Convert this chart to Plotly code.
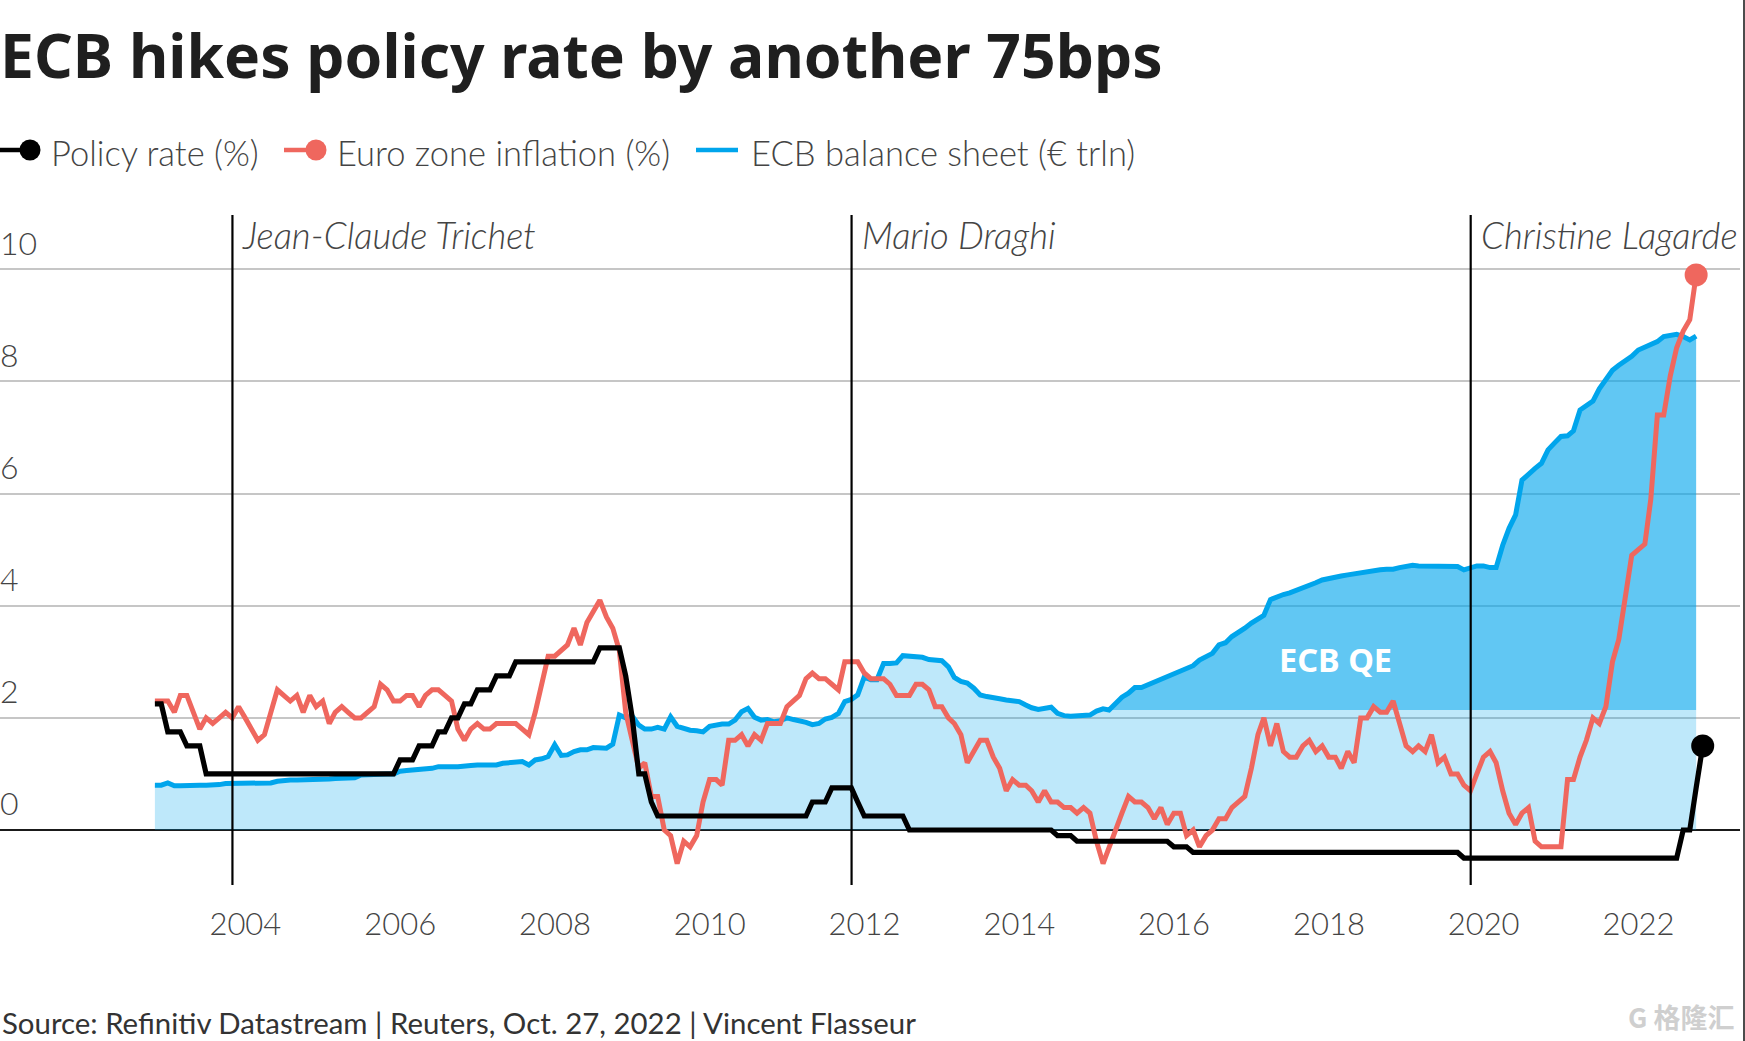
#!/usr/bin/env python3
import numpy as np
import pandas as pd
import plotly.graph_objects as go

# monthly readings, first value is end of Oct 2002
inflation = [
    2.3, 2.3, 2.3,
    2.1, 2.4, 2.4, 2.1, 1.8, 2.0, 1.9, 2.0, 2.1, 2.0, 2.2, 2.0,
    1.8, 1.6, 1.7, 2.1, 2.5, 2.4, 2.3, 2.4, 2.1, 2.4, 2.2, 2.3,
    1.9, 2.1, 2.2, 2.1, 2.0, 2.0, 2.1, 2.2, 2.6, 2.5, 2.3, 2.3,
    2.4, 2.4, 2.2, 2.4, 2.5, 2.5, 2.4, 2.3, 1.8, 1.6, 1.8, 1.9,
    1.8, 1.8, 1.9, 1.9, 1.9, 1.9, 1.8, 1.7, 2.1, 2.6, 3.1, 3.1,
    3.2, 3.3, 3.6, 3.3, 3.7, 3.9, 4.1, 3.8, 3.6, 3.2, 2.1, 1.6,
    1.1, 1.2, 0.6, 0.6, 0.0, -0.1, -0.6, -0.2, -0.3, -0.1, 0.5, 0.9,
    0.9, 0.8, 1.6, 1.6, 1.7, 1.5, 1.7, 1.6, 1.9, 1.9, 1.9, 2.2,
    2.3, 2.4, 2.7, 2.8, 2.7, 2.7, 2.6, 2.5, 3.0, 3.0, 3.0, 2.8,
    2.7, 2.7, 2.7, 2.6, 2.4, 2.4, 2.4, 2.6, 2.6, 2.5, 2.2, 2.2,
    2.0, 1.9, 1.7, 1.2, 1.4, 1.6, 1.6, 1.3, 1.1, 0.7, 0.9, 0.8,
    0.8, 0.7, 0.5, 0.7, 0.5, 0.5, 0.4, 0.4, 0.3, 0.4, 0.3, -0.2,
    -0.6, -0.3, 0.0, 0.3, 0.6, 0.5, 0.5, 0.4, 0.2, 0.4, 0.1, 0.3,
    0.3, -0.1, 0.0, -0.3, -0.1, 0.0, 0.2, 0.2, 0.4, 0.5, 0.6, 1.1,
    1.7, 2.0, 1.5, 1.9, 1.4, 1.3, 1.3, 1.5, 1.6, 1.4, 1.5, 1.3,
    1.3, 1.1, 1.4, 1.2, 2.0, 2.0, 2.2, 2.1, 2.1, 2.3, 1.9, 1.5,
    1.4, 1.5, 1.4, 1.7, 1.2, 1.3, 1.0, 1.0, 0.8, 0.7, 1.0, 1.3,
    1.4, 1.2, 0.7, 0.3, 0.1, 0.3, 0.4, -0.2, -0.3, -0.3, -0.3, -0.3,
    0.9, 0.9, 1.3, 1.6, 2.0, 1.9, 2.2, 3.0, 3.4, 4.1, 4.9, 5.0,
    5.1, 5.9, 7.4, 7.4, 8.1, 8.6, 8.9, 9.1, 9.9,
]

balance_sheet = [
    0.80, 0.80, 0.84,
    0.79, 0.79, 0.80, 0.80, 0.80, 0.80, 0.80, 0.81, 0.83, 0.83, 0.83, 0.83,
    0.83, 0.82, 0.82, 0.84, 0.87, 0.89, 0.89, 0.89, 0.89, 0.89, 0.89, 0.89,
    0.91, 0.92, 0.93, 0.93, 0.93, 0.98, 0.99, 1.00, 1.00, 1.00, 1.00, 1.05,
    1.06, 1.07, 1.07, 1.08, 1.10, 1.13, 1.14, 1.13, 1.13, 1.13, 1.15, 1.16,
    1.16, 1.16, 1.16, 1.19, 1.20, 1.22, 1.22, 1.16, 1.25, 1.27, 1.31, 1.52,
    1.33, 1.34, 1.40, 1.43, 1.43, 1.47, 1.46, 1.46, 1.53, 2.05, 2.00, 2.03,
    1.87, 1.80, 1.80, 1.83, 1.80, 2.02, 1.85, 1.81, 1.78, 1.77, 1.75, 1.85,
    1.88, 1.89, 1.89, 1.96, 2.11, 2.17, 2.01, 1.96, 1.97, 1.93, 1.95, 2.00,
    1.97, 1.95, 1.92, 1.88, 1.90, 1.98, 2.01, 2.08, 2.29, 2.33, 2.41, 2.73,
    2.68, 2.68, 2.97, 2.97, 2.98, 3.11, 3.10, 3.09, 3.08, 3.04, 3.03, 3.02,
    2.91, 2.72, 2.65, 2.62, 2.53, 2.41, 2.38, 2.35, 2.34, 2.32, 2.30, 2.29,
    2.23, 2.18, 2.15, 2.17, 2.19, 2.08, 2.04, 2.03, 2.03, 2.05, 2.05, 2.12,
    2.16, 2.14, 2.26, 2.37, 2.44, 2.54, 2.54, 2.59, 2.62, 2.67, 2.73, 2.79,
    2.84, 2.88, 2.93, 3.03, 3.08, 3.15, 3.30, 3.34, 3.45, 3.52, 3.60, 3.69,
    3.76, 3.83, 4.11, 4.16, 4.20, 4.23, 4.27, 4.31, 4.36, 4.41, 4.46, 4.49,
    4.51, 4.53, 4.55, 4.57, 4.58, 4.62, 4.64, 4.64, 4.65, 4.65, 4.68, 4.70,
    4.72, 4.71, 4.71, 4.70, 4.70, 4.70, 4.71, 4.70, 4.64, 4.68, 4.71, 4.71,
    4.68, 4.68, 5.08, 5.38, 5.62, 6.24, 6.36, 6.45, 6.54, 6.78, 6.90, 7.02,
    7.03, 7.12, 7.49, 7.56, 7.65, 7.87, 8.03, 8.20, 8.29, 8.37, 8.45, 8.56,
    8.62, 8.67, 8.71, 8.80, 8.83, 8.84, 8.80, 8.74, 8.81,
]

# one month longer than the other two, ends Oct 2022
policy_rate = [
    2.25, 2.25, 1.75,
    1.75, 1.75, 1.5, 1.5, 1.5, 1, 1, 1, 1, 1, 1, 1,
    1, 1, 1, 1, 1, 1, 1, 1, 1, 1, 1, 1,
    1, 1, 1, 1, 1, 1, 1, 1, 1, 1, 1, 1.25,
    1.25, 1.25, 1.5, 1.5, 1.5, 1.75, 1.75, 2, 2, 2.25, 2.25, 2.5,
    2.5, 2.5, 2.75, 2.75, 2.75, 3, 3, 3, 3, 3, 3, 3,
    3, 3, 3, 3, 3, 3, 3.25, 3.25, 3.25, 3.25, 2.75, 2,
    1, 1, 0.5, 0.25, 0.25, 0.25, 0.25, 0.25, 0.25, 0.25, 0.25, 0.25,
    0.25, 0.25, 0.25, 0.25, 0.25, 0.25, 0.25, 0.25, 0.25, 0.25, 0.25, 0.25,
    0.25, 0.25, 0.25, 0.5, 0.5, 0.5, 0.75, 0.75, 0.75, 0.75, 0.5, 0.25,
    0.25, 0.25, 0.25, 0.25, 0.25, 0.25, 0, 0, 0, 0, 0, 0,
    0, 0, 0, 0, 0, 0, 0, 0, 0, 0, 0, 0,
    0, 0, 0, 0, 0, -0.1, -0.1, -0.1, -0.2, -0.2, -0.2, -0.2,
    -0.2, -0.2, -0.2, -0.2, -0.2, -0.2, -0.2, -0.2, -0.2, -0.2, -0.2, -0.3,
    -0.3, -0.3, -0.4, -0.4, -0.4, -0.4, -0.4, -0.4, -0.4, -0.4, -0.4, -0.4,
    -0.4, -0.4, -0.4, -0.4, -0.4, -0.4, -0.4, -0.4, -0.4, -0.4, -0.4, -0.4,
    -0.4, -0.4, -0.4, -0.4, -0.4, -0.4, -0.4, -0.4, -0.4, -0.4, -0.4, -0.4,
    -0.4, -0.4, -0.4, -0.4, -0.4, -0.4, -0.4, -0.4, -0.5, -0.5, -0.5, -0.5,
    -0.5, -0.5, -0.5, -0.5, -0.5, -0.5, -0.5, -0.5, -0.5, -0.5, -0.5, -0.5,
    -0.5, -0.5, -0.5, -0.5, -0.5, -0.5, -0.5, -0.5, -0.5, -0.5, -0.5, -0.5,
    -0.5, -0.5, -0.5, -0.5, -0.5, -0.5, 0, 0, 0.75, 1.5,
]

presidents = ["Jean-Claude Trichet", "Mario Draghi", "Christine Lagarde"]
president_starts = ["2003-11-01", "2011-11-01", "2019-11-01"]
year_ticks = ["2004", "2006", "2008", "2010", "2012", "2014", "2016", "2018", "2020", "2022"]
y_ticks = [0, 2, 4, 6, 8, 10]
qe_floor = 2.14
qe_start = 148

assert len(inflation) == 240 and len(balance_sheet) == 240 and len(policy_rate) == 241

months = pd.date_range("2002-10-01", periods=241, freq="MS") + pd.offsets.MonthEnd(0)
months = months.strftime("%Y-%m-%d").tolist()

BLACK = "#000000"
RED = "#EF675E"
BLUE = "#00A5EC"
TEXT = "#444444"
LIGHT = "Lato"

light_y = np.array(balance_sheet)
light_y[qe_start:] = np.minimum(light_y[qe_start:], qe_floor)

fig = go.Figure()
fig.add_trace(go.Scatter(x=months[:240], y=light_y, mode="lines", line=dict(width=0),
                         fill="tozeroy", fillcolor="rgba(0,165,236,0.255)", hoverinfo="skip"))
fig.add_trace(go.Scatter(x=months[qe_start:240], y=[qe_floor] * (240 - qe_start), mode="lines",
                         line=dict(width=0), hoverinfo="skip"))
fig.add_trace(go.Scatter(x=months[qe_start:240], y=balance_sheet[qe_start:], mode="lines",
                         line=dict(width=0), fill="tonexty", fillcolor="rgba(0,165,236,0.62)",
                         hoverinfo="skip"))
fig.add_trace(go.Scatter(x=months[:240], y=balance_sheet, mode="lines", name="ECB balance sheet (€ trln)",
                         line=dict(color=BLUE, width=5)))
fig.add_trace(go.Scatter(x=months[:240], y=inflation, mode="lines", name="Euro zone inflation (%)",
                         line=dict(color=RED, width=5)))
fig.add_trace(go.Scatter(x=months[239:240], y=inflation[-1:], mode="markers",
                         marker=dict(color=RED, size=23), hoverinfo="skip"))
fig.add_trace(go.Scatter(x=months, y=policy_rate, mode="lines", name="Policy rate (%)",
                         line=dict(color=BLACK, width=5.2)))
fig.add_trace(go.Scatter(x=months[240:], y=policy_rate[-1:], mode="markers",
                         marker=dict(color=BLACK, size=23), hoverinfo="skip"))

for name, start in zip(presidents, president_starts):
    fig.add_shape(type="line", x0=start, x1=start, y0=-0.98, y1=10.97,
                  line=dict(color=BLACK, width=2.2), layer="above")
    fig.add_annotation(x=start, y=10.61, text="<i>" + name + "</i>", showarrow=False, xanchor="left",
                       xshift=8, font=dict(family=LIGHT, size=36.5, color=TEXT, weight=300))

fig.add_annotation(x="2018-02-01", y=3.05, text="<b>ECB QE</b>", showarrow=False,
                   font=dict(family="Noto Sans", size=32.5, color="white"))

# legend is hand built: the samples carry the dot at their right end
legend_y = 1 - (150 - 200) / 700
for x0, x1, dot, color, label, text_x in [
    (0, 30, 30, BLACK, "Policy rate (%)", 49),
    (284, 316, 316, RED, "Euro zone inflation (%)", 335),
    (696, 738, None, BLUE, "ECB balance sheet (€ trln)", 749),
]:
    fig.add_shape(type="line", xref="paper", yref="paper", x0=x0 / 1740, x1=x1 / 1740, y0=legend_y, y1=legend_y,
                  line=dict(color=color, width=4.5))
    if dot is not None:
        fig.add_shape(type="circle", xref="paper", yref="paper", x0=(dot - 10.5) / 1740, x1=(dot + 10.5) / 1740,
                      y0=legend_y - 10.5 / 700, y1=legend_y + 10.5 / 700, fillcolor=color, line=dict(width=0))
    fig.add_annotation(xref="paper", yref="paper", x=text_x / 1740, y=legend_y, yshift=-2, text=label, showarrow=False,
                       xanchor="left", yanchor="middle", font=dict(family=LIGHT, size=34.5, color=TEXT, weight=300))

# thin dark edge down the right side of the picture
fig.add_shape(type="line", xref="paper", yref="paper", x0=1744 / 1740, x1=1744 / 1740,
              y0=1 - (1041 - 200) / 700, y1=1 + 200 / 700, line=dict(color="#111111", width=1.5))

fig.add_annotation(xref="paper", yref="paper", x=0, y=1 - (1022 - 200) / 700, yanchor="middle",
                   text="Source: Refinitiv Datastream | Reuters, Oct. 27, 2022 | Vincent Flasseur",
                   showarrow=False, xanchor="left", font=dict(family="Lato", size=29.4, color="#333333"))
fig.add_annotation(xref="paper", yref="paper", x=0.998, y=1 - (1017 - 200) / 700, yanchor="middle",
                   text="<b>G 格隆汇</b>", showarrow=False,
                   xanchor="right", font=dict(family="Noto Sans CJK SC", size=27, color="#cfcfcf"))

fig.update_layout(
    width=1745, height=1041,
    margin=dict(l=0, r=5, t=200, b=141, pad=0, autoexpand=False),
    plot_bgcolor="white", paper_bgcolor="white",
    showlegend=False,
    title=dict(text="<b>ECB hikes policy rate by another 75bps</b>", x=0, xref="paper", xanchor="left",
               y=1 - 57 / 1041, yanchor="middle", font=dict(family="Noto Sans", size=60.6, color="#1f1f1f")),
    xaxis=dict(type="date", range=["2000-10-30", "2023-04-25"], tickvals=[y + "-01-01" for y in year_ticks],
               ticktext=year_ticks, showgrid=False, zeroline=False, ticks="", ticklabelstandoff=3,
               automargin=False, tickfont=dict(family=LIGHT, size=31, color=TEXT, weight=300)),
    yaxis=dict(range=[-1.248, 11.236], tickvals=y_ticks, gridcolor="#C6C6C6", gridwidth=2,
               zeroline=True, zerolinecolor="#1a1a1a", zerolinewidth=2, ticklabelposition="inside",
               ticklabelshift=-26, ticklabelstandoff=-3, automargin=False,
               tickfont=dict(family=LIGHT, size=32, color=TEXT, weight=300)),
)

fig.write_html("out.html", config=dict(displayModeBar=False),
               post_script="document.body.style.margin='0';document.body.style.overflow='hidden';")
